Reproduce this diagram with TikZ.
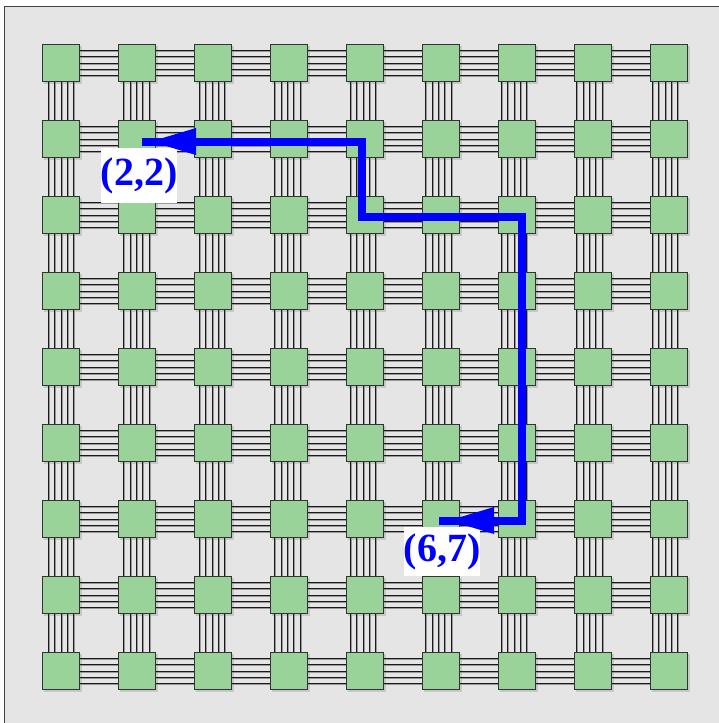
\documentclass[tikz,border=0pt]{standalone}
\usepackage{fontspec}
\setmainfont{Liberation Serif}
\definecolor{cellgreen}{RGB}{153,211,153}
\definecolor{bggray}{RGB}{229,229,229}
\begin{document}
\begin{tikzpicture}[x=1pt,y=-1pt,
  frame/.style={fill=bggray, draw=black!75, line width=1pt},
  cell/.style={draw=black!80, line width=1.1pt, fill=cellgreen, minimum size=37pt, inner sep=0pt},
  cellshadow/.style={fill=black!22},
  wire/.style={line width=0.9pt, draw=black!90},
  wireshade/.style={line width=1pt, draw=black!40},
  route/.style={draw=blue, line width=8pt},
  tiptri/.style={fill=blue},
  tag/.style={fill=white, text=blue, font=\fontsize{40}{40}\selectfont\bfseries, inner sep=0pt}]
\useasboundingbox (0,0) rectangle (719,723);
\clip (0,0) rectangle (719,723);
\draw[frame] (4,6) rectangle (740,740);
% shadows
\foreach \i in {0,...,8}
  \foreach \j in {0,...,8}
    \fill[cellshadow] ({61+76*\i-17},{63+76*\j-17}) rectangle +(38,38);
% squares (nodes)
\foreach \i in {0,...,8}
  \foreach \j in {0,...,8}
    \node[cell] (s-\i-\j) at ({61+76*\i},{63+76*\j}) {};
% horizontal wires
\foreach \i in {0,...,7}{
  \pgfmathtruncatemacro{\k}{\i+1}
  \foreach \j in {0,...,8}
    \foreach \d in {-12.6,-6.3,0,6.3,12.6}{
      \draw[wireshade] ([yshift={\d-1}]s-\i-\j.east) -- ([yshift={\d-1}]s-\k-\j.west);
      \draw[wire] ([yshift=\d]s-\i-\j.east) -- ([yshift=\d]s-\k-\j.west);
    }
}
% vertical wires
\foreach \i in {0,...,8}
  \foreach \j in {0,...,7}{
    \pgfmathtruncatemacro{\k}{\j+1}
    \foreach \d in {-12.6,-6.3,0,6.3,12.6}{
      \draw[wireshade] ([xshift={\d-0.5*\i+1}]s-\i-\j.south) -- ([xshift={\d-0.5*\i+1}]s-\i-\k.north);
      \draw[wire] ([xshift={\d-0.5*\i}]s-\i-\j.south) -- ([xshift={\d-0.5*\i}]s-\i-\k.north);
    }
  }
% redraw squares on top of wire ends
\foreach \i in {0,...,8}
  \foreach \j in {0,...,8}
    \node[cell] at (s-\i-\j) {};
% labels
\node[tag, minimum width=76pt, minimum height=55pt] (l22) at (139,175.5) {(2,2)};
\node[tag, minimum width=76pt, minimum height=49pt] (l67) at (442,551.5) {(6,7)};
% route
\coordinate (p0) at (142,141.5);
\coordinate (p1) at (361.5,141.5);
\coordinate (p2) at (361.5,217);
\coordinate (p3) at (521.5,217);
\coordinate (p4) at (521.5,520.5);
\coordinate (p5) at (439,520.5);
\draw[route] (p0) -- (p1) -- (p2) -- (p3) -- (p4) -- (p5);
\fill[tiptri] (151,141.5) -- (196,128) -- (196,155) -- cycle;
\fill[tiptri] (449,520.5) -- (494,507) -- (494,534) -- cycle;
\end{tikzpicture}
\end{document}
